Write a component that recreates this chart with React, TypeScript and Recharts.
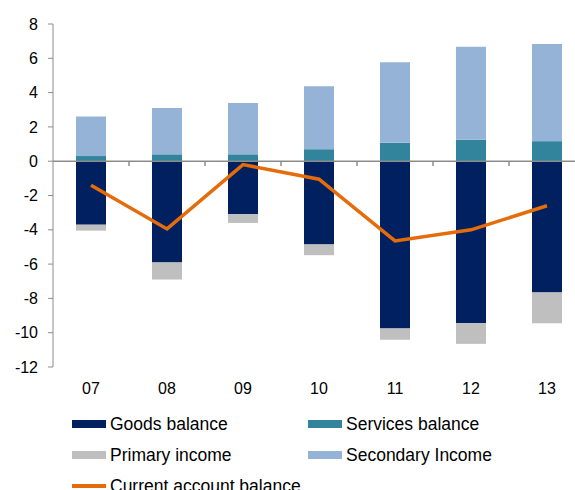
import { ComposedChart, Bar, Line, XAxis, YAxis, ReferenceLine } from 'recharts';

const categories = ['07', '08', '09', '10', '11', '12', '13'];
const goodsBalance = [-3.7, -5.9, -3.1, -4.85, -9.75, -9.45, -7.65];
const servicesBalance = [0.3, 0.4, 0.4, 0.7, 1.07, 1.25, 1.17];
const primaryIncome = [-0.35, -1.0, -0.5, -0.63, -0.66, -1.2, -1.8];
const secondaryIncome = [2.3, 2.7, 3.0, 3.67, 4.7, 5.42, 5.67];
const currentAccount = [-1.4, -3.95, -0.2, -1.05, -4.65, -4.0, -2.6];
const yTicks = [-12, -10, -8, -6, -4, -2, 0, 2, 4, 6, 8];

const data = categories.map((c, i) => ({
  x: i,
  label: c,
  goods: goodsBalance[i],
  services: servicesBalance[i],
  primary: primaryIncome[i],
  secondary: secondaryIncome[i],
  current: currentAccount[i],
}));

const boundaries = categories.slice(1).map((_, i) => i + 0.5);

const FONT = '"Liberation Sans", Arial, sans-serif';
const AXIS = '#8c8c8c';

const legendItems = [
  { name: 'Goods balance', color: '#002060', kind: 'bar', left: 72, top: 424 },
  { name: 'Services balance', color: '#31849b', kind: 'bar', left: 308, top: 424 },
  { name: 'Primary income', color: '#bfbfbf', kind: 'bar', left: 72, top: 455 },
  { name: 'Secondary Income', color: '#95b3d7', kind: 'bar', left: 308, top: 455 },
  { name: 'Current account balance', color: '#e46c0a', kind: 'line', left: 72, top: 486 },
];

function XTick(props: any) {
  const { x, y, payload } = props;
  return (
    <text x={x} y={y + 27} textAnchor="middle" fontSize={16} fill="#000" fontFamily={FONT}>
      {categories[payload.value]}
    </text>
  );
}

export default function App() {
  return (
    <div
      style={{
        position: 'absolute',
        left: 0,
        top: 0,
        width: 575,
        height: 490,
        overflow: 'hidden',
        background: '#fff',
        fontFamily: FONT,
      }}
    >
      <ComposedChart
        width={585}
        height={400}
        data={data}
        stackOffset="sign"
        margin={{ top: 24, right: 0, bottom: 0, left: 0 }}
      >
        <XAxis
          dataKey="x"
          type="number"
          domain={[-0.5, 6.5]}
          ticks={[0, 1, 2, 3, 4, 5, 6]}
          interval={0}
          height={33}
          axisLine={false}
          tickLine={false}
          tickSize={0}
          tickMargin={0}
          tick={<XTick />}
        />
        <YAxis
          domain={[-12, 8]}
          ticks={yTicks}
          interval={0}
          width={53}
          stroke={AXIS}
          tickSize={5}
          tickMargin={10}
          tick={{ fill: '#000', fontSize: 16, fontFamily: FONT }}
        />
        <Bar dataKey="goods" stackId="a" fill="#002060" barSize={30} isAnimationActive={false} />
        <Bar dataKey="services" stackId="a" fill="#31849b" barSize={30} isAnimationActive={false} />
        <Bar dataKey="primary" stackId="a" fill="#bfbfbf" barSize={30} isAnimationActive={false} />
        <Bar dataKey="secondary" stackId="a" fill="#95b3d7" barSize={30} isAnimationActive={false} />
        <ReferenceLine y={0} stroke={AXIS} strokeWidth={1.5} />
        {boundaries.map((b) => (
          <ReferenceLine
            key={b}
            segment={[
              { x: b, y: 0 },
              { x: b, y: -0.28 },
            ]}
            stroke={AXIS}
            strokeWidth={1.5}
          />
        ))}
        <Line
          dataKey="current"
          stroke="#e46c0a"
          strokeWidth={3.5}
          dot={false}
          activeDot={false}
          isAnimationActive={false}
        />
      </ComposedChart>
      {legendItems.map((item) => (
        <div
          key={item.name}
          style={{
            position: 'absolute',
            left: item.left,
            top: item.top - 12,
            height: 24,
            display: 'flex',
            alignItems: 'center',
            fontSize: 17.5,
            color: '#000',
            whiteSpace: 'nowrap',
          }}
        >
          <div
            style={{
              width: 34,
              height: item.kind === 'bar' ? 8 : 3.5,
              background: item.color,
              marginRight: 4,
            }}
          />
          {item.name}
        </div>
      ))}
    </div>
  );
}
